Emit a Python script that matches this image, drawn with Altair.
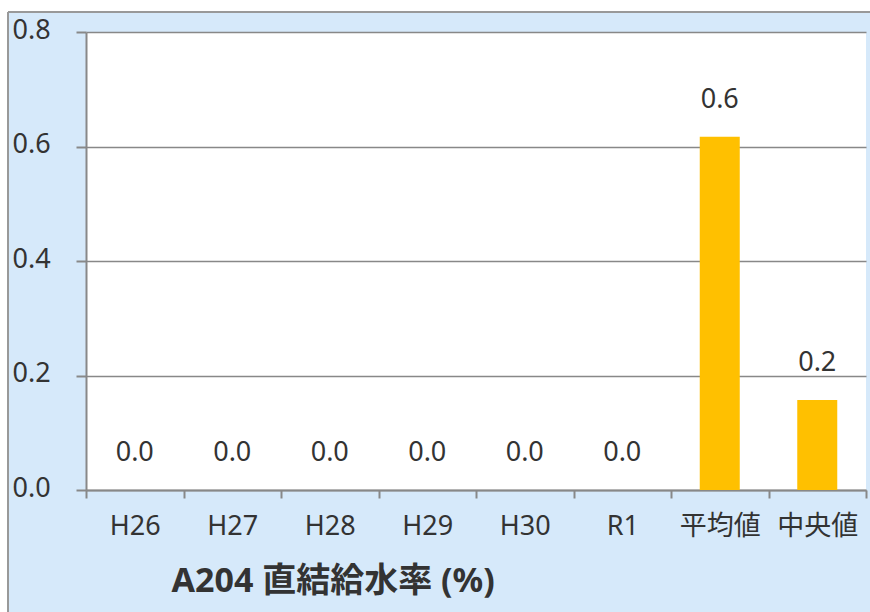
import altair as alt
import pandas as pd

categories = ["H26", "H27", "H28", "H29", "H30", "R1", "平均値", "中央値"]
values = [0.0, 0.0, 0.0, 0.0, 0.0, 0.0, 0.617, 0.157]
y_ticks = [0.0, 0.2, 0.4, 0.6, 0.8]
title_text = "A204 直結給水率 (%)"

df = pd.DataFrame({"cat": categories, "val": values})

FONT = "Noto Sans, Noto Sans CJK JP"
BLUE = "#D6E9FA"
TXT = "#333333"
GRAY = "#888888"

W, H = 780, 458

base = alt.Chart(df)

bars = base.mark_bar(color="#FFC000", width=40).encode(
    x=alt.X("cat:N", sort=categories,
            scale=alt.Scale(paddingInner=0, paddingOuter=0),
            axis=alt.Axis(title=title_text, labelAngle=0, tickBand="extent",
                          labelFont=FONT, labelFontSize=27, labelColor=TXT,
                          labelPadding=15, tickSize=8, tickColor=GRAY, tickWidth=2,
                          domainColor=GRAY, domainWidth=2,
                          titleFont=FONT, titleFontSize=34, titleFontWeight="bold",
                          titleColor=TXT, titleAnchor="start", titleAlign="left",
                          titleX=85, titleY=91, titleBaseline="middle")),
    y=alt.Y("val:Q", scale=alt.Scale(domain=[0, 0.8], nice=False),
            axis=alt.Axis(title=None, values=y_ticks, format=".1f",
                          labelFont=FONT, labelFontSize=27, labelColor=TXT,
                          labelAlign="left", labelPadding=64, tickSize=10,
                          labelOffset=-2, tickWidth=2,
                          tickColor=GRAY, domainColor=GRAY, domainWidth=2,
                          gridColor=GRAY, gridWidth=1.5)),
)

labels = base.mark_text(font=FONT, fontSize=27, color=TXT, baseline="middle", dy=-37).encode(
    x=alt.X("cat:N", sort=categories),
    y="val:Q",
    text=alt.Text("val:Q", format=".1f"),
)

# outer frame: white margins and gray border lines outside the plot area
frame_df = pd.DataFrame({"k": [0]})
top_strip = alt.Chart(frame_df).mark_rect(color="white").encode(
    x=alt.value(-86), x2=alt.value(800), y=alt.value(-32), y2=alt.value(-20))
left_strip = alt.Chart(frame_df).mark_rect(color="white").encode(
    x=alt.value(-86), x2=alt.value(-78), y=alt.value(-32), y2=alt.value(600))
top_line = alt.Chart(frame_df).mark_rule(color="#999999", strokeWidth=2).encode(
    x=alt.value(-78), x2=alt.value(800), y=alt.value(-20))
left_line = alt.Chart(frame_df).mark_rule(color="#999999", strokeWidth=2).encode(
    x=alt.value(-78), y=alt.value(-20), y2=alt.value(600))

chart = alt.layer(bars, labels, top_strip, left_strip, top_line, left_line).properties(
    width=W, height=H,
    background=BLUE,
    autosize=alt.AutoSizeParams(type="none"),
    padding={"left": 86, "top": 32, "right": 4, "bottom": 122},
).configure_view(fill="white", stroke=None)

chart.save("out.html", embed_options={"renderer": "svg", "actions": False})
